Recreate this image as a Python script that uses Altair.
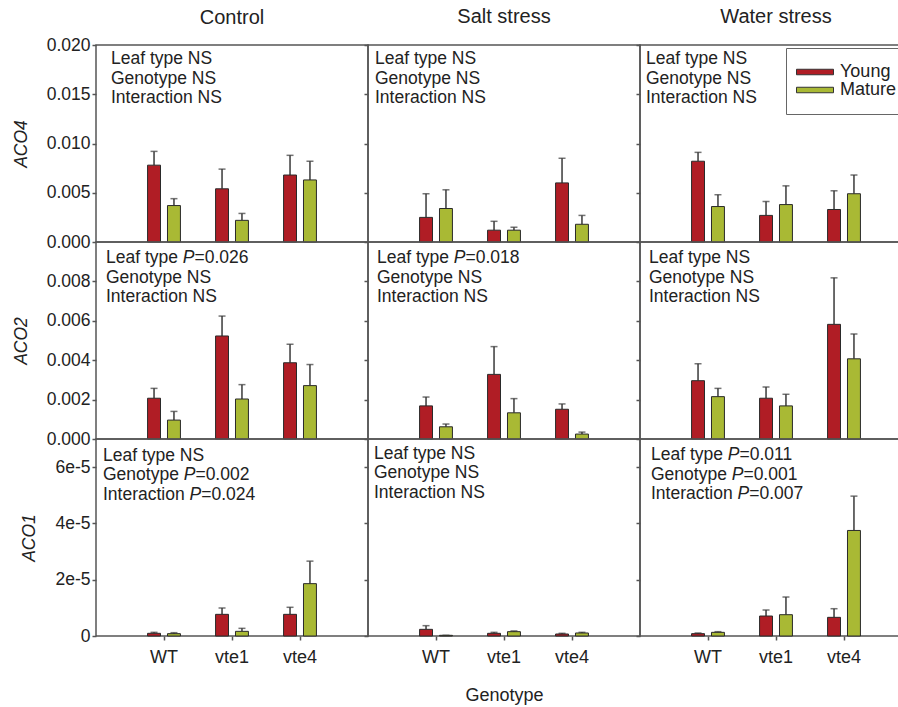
import altair as alt
import pandas as pd

# ---------------- data ----------------
genotypes = ["WT", "vte1", "vte4"]
leaf_types = ["Young", "Mature"]
conditions = ["Control", "Salt stress", "Water stress"]
genes = ["ACO4", "ACO2", "ACO1"]

# ACO4
aco4_control_young = [0.0078, 0.0054, 0.0068]
aco4_control_young_se = [0.0014, 0.0020, 0.0020]
aco4_control_mature = [0.0037, 0.0022, 0.0063]
aco4_control_mature_se = [0.0007, 0.0007, 0.0019]
aco4_salt_young = [0.0025, 0.0012, 0.0060]
aco4_salt_young_se = [0.0024, 0.0009, 0.0025]
aco4_salt_mature = [0.0034, 0.0012, 0.0018]
aco4_salt_mature_se = [0.0019, 0.0003, 0.0009]
aco4_water_young = [0.0082, 0.0027, 0.0033]
aco4_water_young_se = [0.0009, 0.0014, 0.0019]
aco4_water_mature = [0.0036, 0.0038, 0.0049]
aco4_water_mature_se = [0.0012, 0.0019, 0.0019]

# ACO2
aco2_control_young = [0.00207, 0.00523, 0.00387]
aco2_control_young_se = [0.00050, 0.00101, 0.00094]
aco2_control_mature = [0.00096, 0.00203, 0.00271]
aco2_control_mature_se = [0.00044, 0.00073, 0.00107]
aco2_salt_young = [0.00168, 0.00328, 0.00151]
aco2_salt_young_se = [0.00045, 0.00141, 0.00027]
aco2_salt_mature = [0.00062, 0.00133, 0.00025]
aco2_salt_mature_se = [0.00014, 0.00072, 0.00010]
aco2_water_young = [0.00296, 0.00207, 0.00582]
aco2_water_young_se = [0.00086, 0.00057, 0.00236]
aco2_water_mature = [0.00215, 0.00168, 0.00407]
aco2_water_mature_se = [0.00042, 0.00059, 0.00126]

# ACO1
aco1_control_young = [0.95e-6, 7.7e-6, 7.7e-6]
aco1_control_young_se = [0.35e-6, 2.25e-6, 2.5e-6]
aco1_control_mature = [0.83e-6, 1.66e-6, 18.6e-6]
aco1_control_mature_se = [0.35e-6, 1.06e-6, 8.0e-6]
aco1_salt_young = [2.37e-6, 0.95e-6, 0.71e-6]
aco1_salt_young_se = [1.3e-6, 0.35e-6, 0.24e-6]
aco1_salt_mature = [0.24e-6, 1.54e-6, 1.07e-6]
aco1_salt_mature_se = [0.0, 0.26e-6, 0.23e-6]
aco1_water_young = [0.83e-6, 7.1e-6, 6.63e-6]
aco1_water_young_se = [0.24e-6, 2.13e-6, 3.07e-6]
aco1_water_mature = [1.3e-6, 7.57e-6, 37.5e-6]
aco1_water_mature_se = [0.24e-6, 6.28e-6, 12.2e-6]

# statistics text: per condition -> [leaf type, genotype, interaction]
stat_labels = ["Leaf type", "Genotype", "Interaction"]
aco4_stats = [["NS", "NS", "NS"], ["NS", "NS", "NS"], ["NS", "NS", "NS"]]
aco2_stats = [["0.026", "NS", "NS"], ["0.018", "NS", "NS"], ["NS", "NS", "NS"]]
aco1_stats = [["NS", "0.002", "0.024"], ["NS", "NS", "NS"], ["0.011", "0.001", "0.007"]]

series = {
    "ACO4": [
        (aco4_control_young, aco4_control_young_se, aco4_control_mature, aco4_control_mature_se),
        (aco4_salt_young, aco4_salt_young_se, aco4_salt_mature, aco4_salt_mature_se),
        (aco4_water_young, aco4_water_young_se, aco4_water_mature, aco4_water_mature_se),
    ],
    "ACO2": [
        (aco2_control_young, aco2_control_young_se, aco2_control_mature, aco2_control_mature_se),
        (aco2_salt_young, aco2_salt_young_se, aco2_salt_mature, aco2_salt_mature_se),
        (aco2_water_young, aco2_water_young_se, aco2_water_mature, aco2_water_mature_se),
    ],
    "ACO1": [
        (aco1_control_young, aco1_control_young_se, aco1_control_mature, aco1_control_mature_se),
        (aco1_salt_young, aco1_salt_young_se, aco1_salt_mature, aco1_salt_mature_se),
        (aco1_water_young, aco1_water_young_se, aco1_water_mature, aco1_water_mature_se),
    ],
}
stats = {"ACO4": aco4_stats, "ACO2": aco2_stats, "ACO1": aco1_stats}

y_domains = [[0, 0.020], [0, 0.010], [0, 7e-5]]
y_ticks = [[0, 0.005, 0.010, 0.015, 0.020],
           [0, 0.002, 0.004, 0.006, 0.008],
           [0, 2e-5, 4e-5, 6e-5]]

# ---------------- styling ----------------
FONT = "Liberation Sans"
FS = 17.5
TXT = "#222222"
EDGE = "#555555"
RED = "#b01d25"
GREEN = "#a9b934"
W, H = 272, 197
LEFT, TOP = 96, 45
CANVAS_W, CANVAS_H = 898, 707

text_dx = [[15, 7, 6], [10, 9, 9], [7, 6, 11]]
text_y0 = [[14, 14, 14], [16, 16, 16], [16.5, 14.5, 16]]
LINE = 19.5

ARIAL = {" ": 278, "L": 556, "e": 556, "a": 556, "f": 278, "t": 278, "y": 500,
         "p": 556, "N": 722, "S": 667, "G": 778, "n": 556, "o": 556, "I": 278,
         "r": 333, "c": 500, "i": 222, "P": 667, "=": 584, ".": 278}


def text_width(s, size=FS):
    return sum(ARIAL.get(ch, 556) for ch in s) * size / 1000.0


def annotation_layers(r, c):
    layers = []
    x0 = text_dx[r][c]
    for k, lab in enumerate(stat_labels):
        val = stats[genes[r]][c][k]
        y = text_y0[r][c] + k * LINE
        if val == "NS":
            segs = [(f"{lab} NS", "normal")]
        else:
            segs = [(f"{lab} ", "normal"), ("P", "italic"), (f"={val}", "normal")]
        x = x0
        for s, style in segs:
            layers.append(
                alt.Chart(pd.DataFrame({"t": [s]}))
                .mark_text(align="left", baseline="middle", font=FONT, fontSize=FS,
                           fontStyle=style, color=TXT)
                .encode(text="t:N", x=alt.value(x), y=alt.value(y))
            )
            x += text_width(s)
    return layers


def panel(r, c):
    gene = genes[r]
    young, young_se, mature, mature_se = series[gene][c]
    rows = []
    for i, g in enumerate(genotypes):
        rows.append(dict(genotype=g, leaf="Young", value=young[i], upper=young[i] + young_se[i]))
        rows.append(dict(genotype=g, leaf="Mature", value=mature[i], upper=mature[i] + mature_se[i]))
    df = pd.DataFrame(rows)

    bottom = r == 2
    if bottom:
        xaxis = alt.Axis(labels=True, ticks=True, tickSize=4, domain=False, labelAngle=0,
                         labelFontSize=18, labelPadding=8, labelColor=TXT,
                         title="Genotype" if c == 1 else None,
                         titleFontSize=18, titleFontWeight="normal", titlePadding=20,
                         titleColor=TXT)
    else:
        xaxis = None

    x = alt.X("genotype:N", sort=genotypes, axis=xaxis,
              scale=alt.Scale(paddingInner=0.414, paddingOuter=0.707))
    xo = alt.XOffset("leaf:N", sort=leaf_types,
                     scale=alt.Scale(paddingInner=0.35, paddingOuter=0.175))

    if r == 2:
        lab_expr = "datum.value == 0 ? '0' : format(datum.value * 1e5, 'd') + 'e-5'"
    else:
        lab_expr = "format(datum.value, '.3f')"
    if c == 0:
        yaxis = alt.Axis(values=y_ticks[r], labelExpr=lab_expr, labelFontSize=FS,
                         labelColor=TXT, tickSize=4, domain=False, grid=False,
                         title=gene, titleFontStyle="italic", titleFontWeight="normal",
                         titleFontSize=FS, titleColor=TXT, titlePadding=16)
    else:
        yaxis = alt.Axis(values=y_ticks[r], labels=False, tickSize=4, domain=False,
                         grid=False, title=None)
    y = alt.Y("value:Q", axis=yaxis,
              scale=alt.Scale(domain=y_domains[r], nice=False, zero=True))

    if r == 0 and c == 2:
        legend = alt.Legend(title=None, orient="none", legendX=146, legendY=3,
                            direction="vertical",
                            symbolType="M-3.7,-0.55H3.7V0.55H-3.7Z", symbolSize=100,
                            symbolStrokeColor="#333333", symbolStrokeWidth=1,
                            symbolOffset=5, labelOffset=16,
                            labelFontSize=18, labelFont=FONT, labelColor=TXT,
                            strokeColor="#666666", fillColor="white",
                            padding=15, rowPadding=0)
    else:
        legend = None
    color = alt.Color("leaf:N", sort=leaf_types,
                      scale=alt.Scale(domain=leaf_types, range=[RED, GREEN]),
                      legend=legend)

    base = alt.Chart(df)
    bars = base.mark_bar(stroke="#2a2a2a", strokeWidth=1).encode(x=x, xOffset=xo, y=y, color=color)
    err = base.mark_rule(color="#3a3a3a", strokeWidth=1.5).encode(
        x=x, xOffset=xo, y="value:Q", y2="upper:Q")
    cap = base.mark_tick(color="#3a3a3a", thickness=1.5, size=7, orient="horizontal").encode(
        x=x, xOffset=xo, y="upper:Q")

    props = dict(width=W, height=H)
    if r == 0:
        props["title"] = alt.TitleParams(conditions[c], fontSize=20, fontWeight="normal",
                                         font=FONT, color=TXT, anchor="middle",
                                         frame="group", offset=8 if c == 0 else 17.5)
    layers = [err, cap, bars] + annotation_layers(r, c)
    return alt.layer(*layers).properties(**props)


panels = [panel(r, c) for r in range(3) for c in range(3)]

chart = (
    alt.concat(*panels, columns=3, spacing=0, bounds="flush")
    .resolve_legend(color="independent")
    .properties(
        autosize=alt.AutoSizeParams(type="none"),
        padding={"left": LEFT, "top": TOP, "right": CANVAS_W - LEFT, "bottom": CANVAS_H - TOP},
    )
    .configure(font=FONT)
    .configure_view(stroke=EDGE, strokeWidth=1.5)
    .configure_axis(tickColor=EDGE, tickWidth=1.5, labelFont=FONT, titleFont=FONT)
)

chart.save("out.html", embed_options={"renderer": "svg", "actions": False})
